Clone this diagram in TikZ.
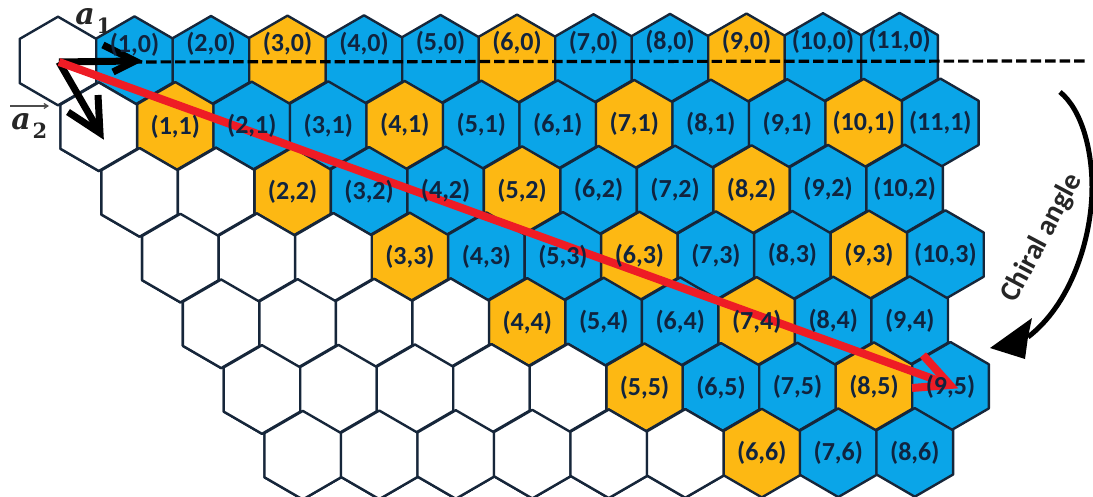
\documentclass[tikz,border=0pt]{standalone}
\usepackage{fontspec}
\usetikzlibrary{arrows.meta}
\setmainfont{Carlito}
\newfontfamily\mathlike{DejaVu Serif}
\definecolor{hexblue}{HTML}{0AA5E8}
\definecolor{hexorange}{HTML}{FDB813}
\definecolor{hexline}{HTML}{16263A}
\definecolor{labelnavy}{HTML}{10243F}
\definecolor{redline}{HTML}{EE1C25}
\tikzset{
  hexcell/.style={draw=hexline,line width=2.4pt,line join=round},
  celllabel/.style={font=\fontsize{26}{26}\selectfont\bfseries,text=labelnavy,inner sep=0pt},
  vecname/.style={font=\mathlike\fontsize{30}{30}\selectfont\bfseries\itshape,text=black!85,inner sep=0pt},
  vecsub/.style={font=\mathlike\fontsize{21}{21}\selectfont\bfseries,text=black!85,inner sep=0pt},
  blackvec/.style={draw=black,line width=7pt,line join=miter},
  redvec/.style={draw=redline,line width=8pt,line join=miter},
}
\newcommand{\hexat}[3]{%
  \pgfmathsetmacro{\cx}{58+76.5*#1+40.8*#2}%
  \pgfmathsetmacro{\cy}{61-0.35*#1+65.7*#2}%
  \path[hexcell,fill=#3] (\cx,\cy-44.3) -- (\cx+38.3,\cy-22.1) -- (\cx+38.3,\cy+22.1) -- (\cx,\cy+44.3) -- (\cx-38.3,\cy+22.1) -- (\cx-38.3,\cy-22.1) -- cycle;}
\newcommand{\cellat}[3]{%
  \pgfmathsetmacro{\cx}{58+76.5*#1+40.8*#2}%
  \pgfmathsetmacro{\cy}{61-0.35*#1+65.7*#2+#3}%
  \node[celllabel] (c#1x#2) at (\cx,\cy) {(#1,#2)};}
\begin{document}
\begin{tikzpicture}[x=1pt,y=-1pt]
\useasboundingbox (0,0) rectangle (1093,497);
\begin{scope}
\clip (0,0) rectangle (1093,497);
\foreach \n/\last in {0/11,1/11,2/10,3/10,4/9,5/9,6/8}{
  \foreach \m in {0,...,\last}{
    \pgfmathtruncatemacro{\kind}{\m<\n ? 0 : ((\m==0 && \n==0) ? 0 : (mod(\m-\n,3)==0 ? 1 : 2))}
    \ifcase\kind \hexat{\m}{\n}{white}\or \hexat{\m}{\n}{hexorange}\or \hexat{\m}{\n}{hexblue}\fi
  }
}
\foreach \n in {1,...,6}{
  \pgfmathtruncatemacro{\stop}{\n-1}
  \foreach \m in {0,...,\stop}{\hexat{\m}{\n}{white}}
}
\end{scope}
\coordinate (o) at (59,62);
\coordinate (dashend) at (1088,61);
\coordinate (a1tip) at (135,61);
\coordinate (a2tip) at (100,133);
\coordinate (chiraltip) at (950,385);
\draw[line width=3.2pt,black,dash pattern=on 10.5pt off 4pt] (o) -- (dashend);
\draw[blackvec] (o) -- (a1tip);
\draw[blackvec] (103,45) -- (a1tip) -- (113,72);
\draw[blackvec] (o) -- (a2tip);
\draw[blackvec] (68,112) -- (a2tip) -- (98,95);
\draw[redvec] (o) -- (chiraltip);
\draw[redvec] (923,355) -- (chiraltip) -- (912,388);
\foreach \m in {1,...,11}{\cellat{\m}{0}{-16}}
\foreach \n/\last in {1/11,2/10,3/10,4/9,5/9,6/8}{
  \foreach \m in {\n,...,\last}{\cellat{\m}{\n}{0}}
}
\begin{scope}
\clip (0,9) rectangle (1093,497);
\node[vecname] (a1) at (85,17) {a};
\node[vecsub] (a1s) at (104,26) {1};
\end{scope}
\node[vecname] (a2) at (21,122) {a};
\node[vecsub] (a2s) at (40,131) {2};
\coordinate (ovl) at (10,106);
\coordinate (ovr) at (49,106);
\draw[line width=1.2pt,black!70,-{Straight Barb[length=4pt,width=5pt]}] (ovl) -- (ovr);
\node[font=\fontsize{29}{29}\selectfont\bfseries,text=black!85,rotate=62,inner sep=0pt] (chiral) at (1042,238) {Chiral angle};
\coordinate (arcs) at (1060,92);
\coordinate (arcm) at (1092,187);
\coordinate (arce) at (1028,337);
\draw[line width=5pt,black] (arcs) .. controls (1082,110) and (1092,150) .. (arcm) .. controls (1092,240) and (1070,305) .. (arce);
\fill[black] (990,348) -- (1032,318) -- (1028,337) -- (1025,359) -- cycle;
\end{tikzpicture}
\end{document}
